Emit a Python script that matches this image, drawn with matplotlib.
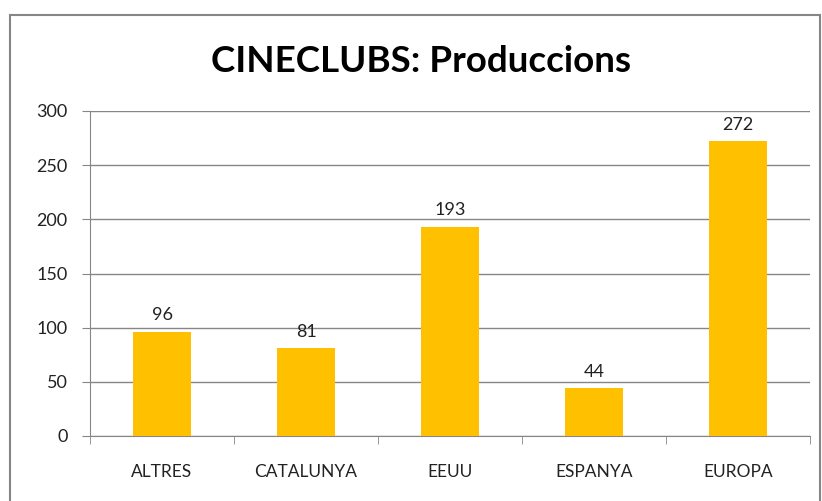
import matplotlib
matplotlib.use("Agg")
import matplotlib.pyplot as plt
from matplotlib.patches import Rectangle

categories = ["ALTRES", "CATALUNYA", "EEUU", "ESPANYA", "EUROPA"]
values = [96, 81, 193, 44, 272]
yticks = [0, 50, 100, 150, 200, 250, 300]

plt.rcParams['font.family'] = ['Lato', 'DejaVu Sans']

fig = plt.figure(figsize=(8.22, 5.01), dpi=100)
W, H = 822, 501
ax = fig.add_axes([90 / W, 1 - 436 / H, 720 / W, 325 / H])

x = list(range(len(categories)))
ax.bar(x, values, width=0.4, color="#FFC000", zorder=3)
for xi, v in zip(x, values):
    ax.text(xi, v + 8, str(v), ha="center", va="bottom", fontsize=13, color="#222222")

ax.set_xlim(-0.5, len(categories) - 0.5)
ax.set_ylim(0, 300)
ax.set_yticks(yticks)
ax.set_yticklabels([str(t) for t in yticks], fontsize=13, color="#222222")
ax.set_xticks(x)
ax.set_xticklabels(categories, fontsize=12.5, color="#222222")
ax.tick_params(axis="x", length=0, pad=20)
ax.set_xticks([i - 0.5 for i in range(len(categories) + 1)], minor=True)
ax.tick_params(axis="x", which="minor", length=6, color="#868686", direction="out")
ax.tick_params(axis="y", length=6, color="#868686", direction="out", pad=10)
ax.yaxis.grid(True, color="#868686", linewidth=1, zorder=0)
for s in ["top", "right"]:
    ax.spines[s].set_visible(False)
for s in ["left", "bottom"]:
    ax.spines[s].set_color("#868686")

fig.text(421 / W, 1 - 62 / H, "CINECLUBS: Produccions", ha="center", va="center",
         fontsize=26.5, fontweight="bold", color="#000000")

fig.patches.append(Rectangle((10 / W, -0.05), 810 / W, 1 - 15 / H + 0.05,
                             transform=fig.transFigure, fill=False,
                             edgecolor="#868686", linewidth=1.5))

fig.savefig("out.png", dpi=100)
